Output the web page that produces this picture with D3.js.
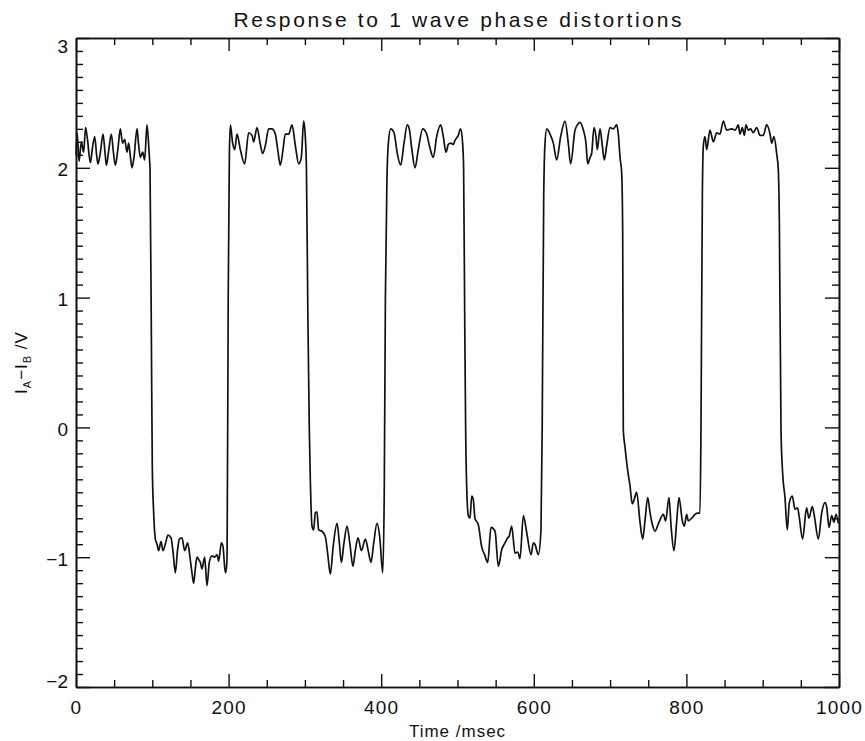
<!DOCTYPE html>
<html>
<head>
<meta charset="utf-8">
<script src="https://cdn.jsdelivr.net/npm/d3@7"></script>
<style>
  body { margin: 0; background: #fff; }
  svg text { font-family: "Liberation Sans", Arial, sans-serif; fill: #111; }
</style>
</head>
<body>
<svg id="chart" width="865" height="741"></svg>
<script>
// values (time in msec, signal in V)
var timeMs = [
  0, 1.5, 4, 7, 10, 12.5, 15, 18.8, 21.5, 24.5, 27, 28.8, 32, 35.4, 38, 39.8, 43, 46.3, 49, 51.6, 55, 58.1, 61, 63.8, 66.8, 69, 71, 73.4, 76, 80, 82, 84.4, 87.4, 90, 93, 95, 96.5,
  97, 99, 100, 101.8, 104,
  106.2, 108.3, 111.4, 114, 117, 120.6, 124.5, 127, 130.2, 133, 135.5, 138.9, 142.4, 146.3, 149.8, 152, 154.2, 156.5, 158.6, 161, 163, 165.1, 168.6, 171.7, 174.7, 178.2, 181.7, 184.8, 187, 190.5, 192.7, 195.7, 197,
  198, 199.5, 201, 202.3,
  205.3, 208, 211, 215.4, 221, 226.3, 230.7, 232.9, 237.2, 241.6, 244.6, 248.1, 252.5, 256.9, 261.2, 264.4, 267.8, 271.3, 274.3, 278.8, 283.1, 287.5, 291.9, 295.3, 298.4, 300.5, 302,
  304, 305.8, 307.1, 309.3,
  311.5, 313.6, 315.8, 318, 322.4, 326.7, 330, 333.3, 337, 342.1, 345, 347.8, 351, 355.2, 359, 363, 366, 369.6, 374, 379.2, 383, 386.6, 390, 394.5, 398, 402,
  404, 405.5, 407.5, 409.4,
  412.4, 416.8, 421.1, 425.5, 429.9, 434.2, 436.8, 440, 444.3, 448.6, 454.4, 459.6, 464, 468.3, 472.7, 478, 481.4, 484.9, 488, 491, 494.5, 496.6, 501, 504.1, 506.7, 508,
  509.5, 510.7, 512, 514.2,
  516.4, 518.6, 520.8, 522.9, 527.3, 531.7, 535.5, 539.6, 543.9, 549.2, 553.5, 558, 562.3, 565.8, 567.6, 571, 575.4, 578.9, 581.9, 586.3, 590.7, 596.3, 599.4, 601.5, 605.9, 609.4,
  611, 613, 614.7,
  616.9, 621.2, 625.6, 630, 635.2, 640.9, 645.2, 648.3, 654, 658.3, 660.6, 665, 668.4, 670.6, 673.7, 675.8, 678.9, 681.5, 683.2, 686.8, 689.8, 692.4, 695.5, 699.9, 704.2, 708.6, 710.8, 713, 715.2,
  716.5, 717.3, 719.5, 723, 726.1, 729.1,
  731.3, 734.8, 739.2, 742.7, 745.7, 749.3, 752.4, 755.5, 758.8, 764.1, 769.8, 772.8, 777.2, 779.9, 783.7, 787.2, 790.3, 794.7, 797.3, 800.3, 802.5, 806.9, 811.3, 814.8, 817.8,
  819.1, 820.9, 822.2,
  824.4, 826.6, 830.9, 835.3, 839.7, 844, 848.4, 852.8, 859.4, 864, 868, 870.2, 873.3, 875.9, 878.1, 881.1, 884.2, 887.7, 892.1, 896.5, 900.8, 905.2, 909.6, 911.8, 914.8, 918.3, 920.5,
  921.8, 924, 926.1, 929.2, 932.2,
  934.9, 938.8, 942.3, 945.8, 947.6, 952.3, 957.5, 960.6, 965, 967.6, 972.9, 977.3, 981.6, 983.8, 986.9, 990.4, 993.4, 996.1, 999.1
];
var signalV = [
  2.10, 2.27, 2.05, 2.20, 2.12, 2.31, 2.22, 2.04, 2.15, 2.24, 2.10, 2.03, 2.12, 2.26, 2.12, 2.02, 2.14, 2.26, 2.12, 2.02, 2.15, 2.30, 2.19, 2.22, 2.12, 2.19, 2.10, 2.00, 2.08, 2.30, 2.18, 2.08, 2.12, 2.06, 2.33, 2.20, 2.05,
  2.0, 0.5, -0.3, -0.66, -0.86,
  -0.90, -0.95, -0.88, -0.95, -0.90, -0.83, -0.85, -0.95, -1.12, -0.95, -0.86, -0.85, -0.95, -0.89, -1.02, -1.12, -1.20, -1.08, -1.00, -1.02, -1.04, -1.09, -1.00, -1.22, -1.04, -0.99, -1.00, -0.98, -1.03, -0.89, -0.92, -1.12, -1.09,
  -1.0, 1.0, 2.1, 2.33,
  2.19, 2.14, 2.26, 2.14, 2.03, 2.27, 2.25, 2.20, 2.31, 2.18, 2.11, 2.17, 2.30, 2.30, 2.26, 2.14, 2.02, 2.14, 2.26, 2.26, 2.33, 2.17, 2.03, 2.08, 2.36, 2.24, 2.0,
  0.8, -0.02, -0.40, -0.76,
  -0.79, -0.66, -0.65, -0.79, -0.80, -0.84, -0.98, -1.13, -0.92, -0.74, -0.88, -1.04, -0.90, -0.76, -0.90, -1.07, -0.95, -0.85, -0.95, -0.86, -0.95, -1.04, -0.90, -0.74, -0.84, -1.12,
  -0.5, 1.0, 1.9, 2.19,
  2.30, 2.27, 2.11, 2.02, 2.19, 2.33, 2.30, 2.15, 2.00, 2.14, 2.30, 2.26, 2.15, 2.08, 2.24, 2.33, 2.24, 2.12, 2.18, 2.19, 2.18, 2.21, 2.25, 2.30, 2.19, 2.0,
  0.8, -0.02, -0.45, -0.68,
  -0.70, -0.53, -0.56, -0.70, -0.75, -0.92, -0.98, -1.04, -0.77, -0.80, -1.07, -0.94, -0.89, -0.85, -0.84, -0.76, -0.97, -0.96, -1.01, -0.68, -0.81, -0.98, -0.89, -0.90, -0.98, -0.79,
  0.0, 1.78, 2.19,
  2.30, 2.26, 2.19, 2.06, 2.24, 2.36, 2.19, 2.03, 2.29, 2.34, 2.35, 2.29, 2.19, 2.03, 2.08, 2.11, 2.31, 2.24, 2.14, 2.30, 2.17, 2.06, 2.17, 2.31, 2.30, 2.33, 2.26, 2.08, 1.96,
  1.5, -0.02, -0.15, -0.33, -0.45, -0.59,
  -0.56, -0.50, -0.73, -0.86, -0.72, -0.54, -0.66, -0.75, -0.80, -0.73, -0.67, -0.72, -0.54, -0.76, -0.95, -0.73, -0.54, -0.72, -0.76, -0.67, -0.72, -0.70, -0.67, -0.66, -0.66,
  -0.02, 1.78, 2.17,
  2.24, 2.14, 2.29, 2.20, 2.27, 2.26, 2.36, 2.29, 2.30, 2.29, 2.33, 2.26, 2.31, 2.25, 2.33, 2.29, 2.30, 2.27, 2.31, 2.25, 2.25, 2.33, 2.26, 2.19, 2.24, 2.11, 1.98,
  1.6, -0.02, -0.35, -0.54, -0.79,
  -0.58, -0.53, -0.63, -0.62, -0.68, -0.86, -0.62, -0.70, -0.61, -0.68, -0.86, -0.66, -0.58, -0.61, -0.77, -0.68, -0.73, -0.67, -0.74
];

var xTicks = [0, 200, 400, 600, 800, 1000];
var yTicks = [-2, -1, 0, 1, 2, 3];
var chartTitle = "Response to 1 wave phase distortions";
var xTitle = "Time /msec";

var width = 865, height = 741;
var margin = { top: 38, right: 26, bottom: 54, left: 76 };
var plotW = width - margin.left - margin.right;
var plotH = height - margin.top - margin.bottom;

var svg = d3.select("#chart");
var g = svg.append("g").attr("transform", "translate(" + margin.left + "," + margin.top + ")");

var x = d3.scaleLinear().domain([0, 1000]).range([0, plotW]);
var y = d3.scaleLinear().domain([-2, 3]).range([plotH, 0]);

var xMinor = d3.range(0, 1001, 50).filter(function (d) { return d % 200 !== 0; });
var yMinor = d3.range(-20, 31).map(function (d) { return d / 10; }).filter(function (d) { return Math.abs(d - Math.round(d)) > 1e-6; });

function styleAxis(sel) {
    sel.select(".domain").attr("stroke", "#111").attr("stroke-width", 1.6);
    sel.selectAll(".tick line").attr("stroke", "#111").attr("stroke-width", 1.4);
    sel.selectAll("text").attr("font-size", 19).attr("letter-spacing", 1.2)
        .attr("font-family", "Liberation Sans, Arial, sans-serif").attr("fill", "#111");
}

// bottom axis with labels
var gx = g.append("g").attr("transform", "translate(0," + plotH + ")")
    .call(d3.axisBottom(x).tickValues(xTicks).tickSize(-13).tickSizeOuter(0).tickPadding(14).tickFormat(d3.format("d")));
styleAxis(gx);
g.append("g").attr("transform", "translate(0," + plotH + ")")
    .call(d3.axisBottom(x).tickValues(xMinor).tickSize(-7).tickSizeOuter(0).tickFormat(""))
    .call(styleAxis);

// top axis (ticks only)
g.append("g").call(d3.axisTop(x).tickValues(xTicks).tickSize(-13).tickSizeOuter(0).tickFormat("")).call(styleAxis);
g.append("g").call(d3.axisTop(x).tickValues(xMinor).tickSize(-7).tickSizeOuter(0).tickFormat("")).call(styleAxis);

// left axis with labels
var gy = g.append("g")
    .call(d3.axisLeft(y).tickValues(yTicks).tickSize(-14).tickSizeOuter(0).tickPadding(8).tickFormat(function (d) { return d < 0 ? "\u2212" + Math.abs(d) : d; }));
styleAxis(gy);
gy.selectAll("text").attr("letter-spacing", 0)
    .attr("y", function (d) { return d === 3 ? 8 : (d === -2 ? -6 : 2); });
g.append("g").call(d3.axisLeft(y).tickValues(yMinor).tickSize(-7).tickSizeOuter(0).tickFormat("")).call(styleAxis);

// right axis (ticks only)
g.append("g").attr("transform", "translate(" + plotW + ",0)")
    .call(d3.axisRight(y).tickValues(yTicks).tickSize(-14).tickSizeOuter(0).tickFormat("")).call(styleAxis);
g.append("g").attr("transform", "translate(" + plotW + ",0)")
    .call(d3.axisRight(y).tickValues(yMinor).tickSize(-7).tickSizeOuter(0).tickFormat("")).call(styleAxis);

// the trace
var points = timeMs.map(function (t, i) { return [t, signalV[i]]; });
var line = d3.line()
    .x(function (d) { return x(d[0]); })
    .y(function (d) { return y(d[1]); })
    .curve(d3.curveMonotoneX);

g.append("path")
    .datum(points)
    .attr("fill", "none")
    .attr("stroke", "#111")
    .attr("stroke-width", 1.7)
    .attr("stroke-linejoin", "round")
    .attr("d", line);

// title
svg.append("text")
    .attr("x", margin.left + plotW / 2)
    .attr("y", 27)
    .attr("text-anchor", "middle")
    .attr("font-size", 21)
    .attr("textLength", 448)
    .attr("lengthAdjust", "spacing")
    .text(chartTitle);

// x-axis title
svg.append("text")
    .attr("x", margin.left + plotW / 2)
    .attr("y", 737)
    .attr("text-anchor", "middle")
    .attr("font-size", 17)
    .attr("letter-spacing", 1)
    .text(xTitle);

// y-axis title: I_A - I_B /V
var yt = svg.append("text")
    .attr("transform", "translate(27," + (margin.top + plotH / 2) + ") rotate(-90)")
    .attr("text-anchor", "middle")
    .attr("font-size", 17)
    .attr("letter-spacing", 1);
yt.append("tspan").text("I");
yt.append("tspan").attr("font-size", 11).attr("dy", 4).text("A");
yt.append("tspan").attr("dy", -4).text("\u2212I");
yt.append("tspan").attr("font-size", 11).attr("dy", 4).text("B");
yt.append("tspan").attr("dy", -4).text(" /V");
</script>
</body>
</html>
